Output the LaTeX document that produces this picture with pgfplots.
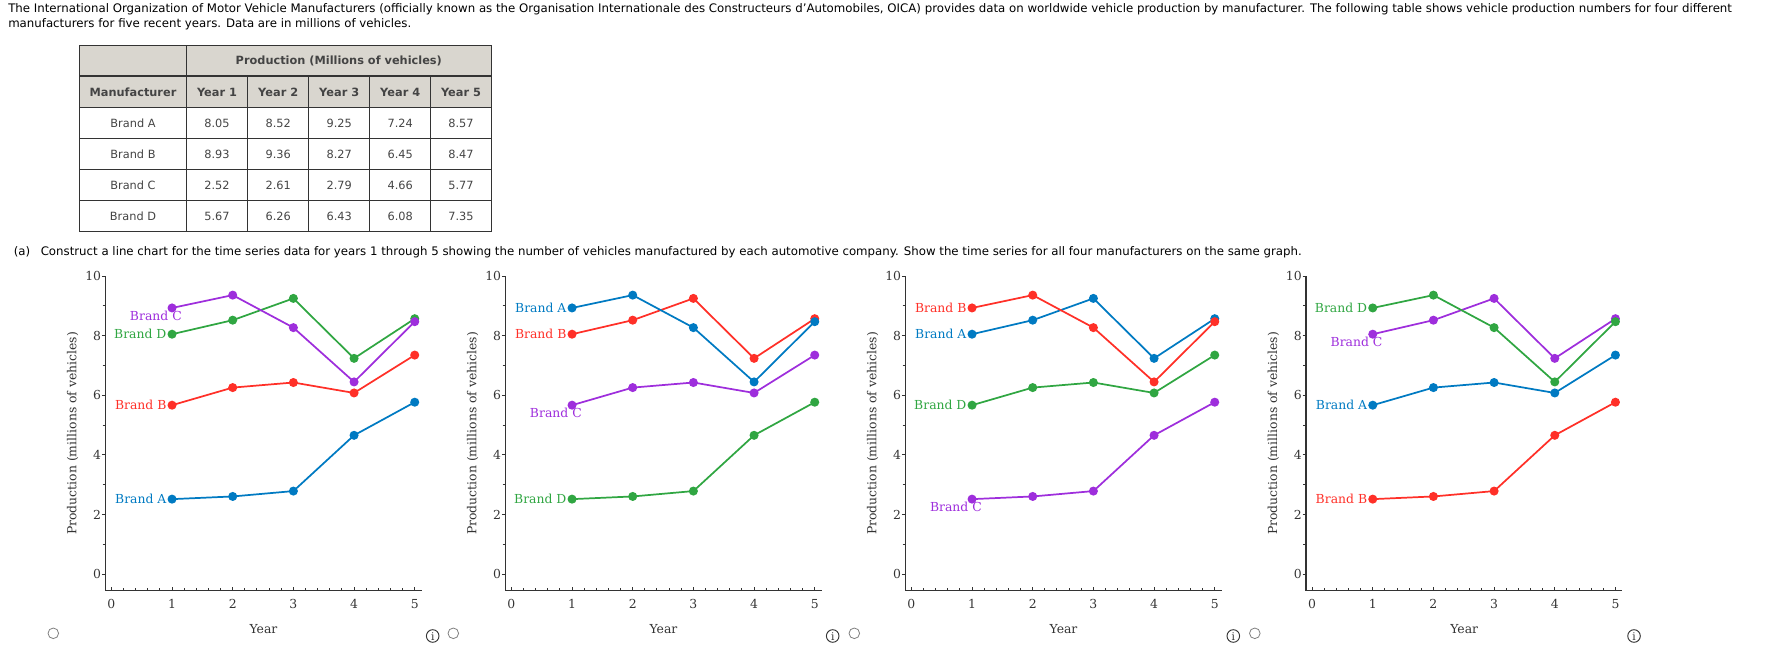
\documentclass[border=0pt]{standalone}
\usepackage{fontspec}
\setmainfont{DejaVu Sans}
\newfontfamily\serifc{DejaVu Serif}
\usepackage{pgfplots}
\usepackage{pgfplotstable}
\pgfplotsset{compat=1.18}

\definecolor{cblue}{RGB}{0,122,194}
\definecolor{cred}{RGB}{255,48,40}
\definecolor{cgreen}{RGB}{48,166,66}
\definecolor{cpurple}{RGB}{158,46,220}
\definecolor{axisgray}{RGB}{51,51,51}
\definecolor{tickgray}{RGB}{51,51,51}
\definecolor{hdrfill}{RGB}{217,214,207}
\definecolor{txtgray}{RGB}{68,68,68}

\newcommand{\chartfont}{\serifc\fontsize{9.3pt}{11pt}\selectfont}
\newcommand{\bodyfont}{\fontsize{8.83pt}{10pt}\selectfont}
\newcommand{\tabfont}{\fontsize{8.5pt}{10pt}\selectfont}

\pgfplotstableread{
year A B C D
1 8.05 8.93 2.52 5.67
2 8.52 9.36 2.61 6.26
3 9.25 8.27 2.79 6.43
4 7.24 6.45 4.66 6.08
5 8.57 8.47 5.77 7.35
}\prodtable

\tikzset{
  lab/.style={font=\chartfont, text=#1, anchor=east, inner sep=0pt, xshift=-4pt},
  labc/.style={font=\chartfont, text=#1, anchor=east, inner sep=0pt, xshift=7.5pt, yshift=-6pt},
}
\pgfplotsset{
  mychart/.style={
    scale only axis, width=237.3pt, height=236pt,
    xmin=-0.1, xmax=5.115, ymin=-0.55, ymax=10,
    axis lines*=left,
    axis line style={draw=axisgray, line width=1pt},
    xtick={0,...,5}, ytick={0,2,...,10},
    minor x tick num=4, minor y tick num=1,
    xtick align=inside, ytick align=outside,
    major tick length=2.5pt, minor tick length=2pt,
    tick style={draw=axisgray, line width=0.75pt},
    tick label style={font=\chartfont, text=tickgray},
    /pgf/number format/assume math mode=true,
    xticklabel style={anchor=center, yshift=-10.2pt},
    yticklabel style={anchor=east, inner sep=0pt, xshift=-0.5pt},
    xlabel={Year}, ylabel={Production (millions of vehicles)},
    label style={font=\chartfont, text=tickgray},
    xlabel style={at={(axis description cs:0.5,-0.1227)}, anchor=center},
    ylabel style={at={(axis description cs:-0.103,0.5)}, anchor=center},
    clip=false,
  },
  ser/.style={color=#1, line width=1.3pt, mark=*, mark size=2.7pt, mark options={solid}},
}

\begin{document}
\begin{tikzpicture}
\begin{scope}[x=0.75pt,y=-0.75pt]
\path[use as bounding box] (0,0) rectangle (1765,670);
% intro text
\node[anchor=west, inner sep=0pt, text=black, font=\bodyfont] at (8,9.5) {The International Organization of Motor Vehicle Manufacturers (officially known as the Organisation Internationale des Constructeurs d'Automobiles, OICA) provides data on worldwide vehicle production by manufacturer. The following table shows vehicle production numbers for four different};
\node[anchor=west, inner sep=0pt, text=black, font=\bodyfont] at (8,24.5) {manufacturers for five recent years. Data are in millions of vehicles.};
% table
\fill[hdrfill] (79.7,45.7) rectangle (491.3,107.7);
\draw[axisgray, line width=1.1pt] (79.7,45.7) rectangle (491.3,231.3);
\foreach \yy in {76,107.7,138.7,169.7,200.5} \draw[axisgray, line width=1.1pt] (79.7,\yy) -- (491.3,\yy);
\draw[axisgray, line width=1.1pt] (186.3,45.7) -- (186.3,231.3);
\foreach \xx in {247.7,308.7,369.7,430.7} \draw[axisgray, line width=1.1pt] (\xx,76) -- (\xx,231.3);
\node[font=\tabfont\bfseries, text=txtgray] at (338.8,61) {Production (Millions of vehicles)};
\node[font=\tabfont\bfseries, text=txtgray] at (133,92) {Manufacturer};
\foreach \c/\xx in {1/217,2/278.2,3/339.2,4/400.2,5/461} \node[font=\tabfont\bfseries, text=txtgray] at (\xx,92) {Year \c};
\foreach \r/\yy/\a/\b/\cc/\d/\e in {A/123.2/8.05/8.52/9.25/7.24/8.57, B/154.2/8.93/9.36/8.27/6.45/8.47, C/185.1/2.52/2.61/2.79/4.66/5.77, D/215.9/5.67/6.26/6.43/6.08/7.35} {
  \node[font=\tabfont, text=txtgray] at (133,\yy) {Brand \r};
  \node[font=\tabfont, text=txtgray] at (217,\yy) {\a};
  \node[font=\tabfont, text=txtgray] at (278.2,\yy) {\b};
  \node[font=\tabfont, text=txtgray] at (339.2,\yy) {\cc};
  \node[font=\tabfont, text=txtgray] at (400.2,\yy) {\d};
  \node[font=\tabfont, text=txtgray] at (461,\yy) {\e};
}
\node[anchor=west, inner sep=0pt, text=black, font=\bodyfont] at (13.5,252) {(a)\hspace{0.9em}Construct a line chart for the time series data for years 1 through 5 showing the number of vehicles manufactured by each automotive company. Show the time series for all four manufacturers on the same graph.};
% radio buttons and info icons
\foreach \rx in {53.3,453.3,854.3,1254.8} \draw[gray, line width=0.6pt] (\rx,633.3) circle (5.3);
\foreach \ix in {432.7,832.7,1233.3,1634} {
  \draw[axisgray, line width=0.7pt] (\ix,636) circle (6.3);
  \node[font=\serifc\fontsize{8pt}{8pt}\selectfont, text=axisgray, inner sep=0pt] at (\ix,636.5) {i};
}
\end{scope}

% Chart 1
\begin{axis}[mychart, at={({105.3*0.75pt},{-590.7*0.75pt})}, anchor=south west]
\addplot[ser=cgreen] table[x=year,y=A] {\prodtable};
\addplot[ser=cpurple] table[x=year,y=B] {\prodtable};
\addplot[ser=cblue] table[x=year,y=C] {\prodtable};
\addplot[ser=cred] table[x=year,y=D] {\prodtable};
\node[lab=cblue] at (axis cs:1,2.52) {Brand A};
\node[lab=cred] at (axis cs:1,5.67) {Brand B};
\node[labc=cpurple] at (axis cs:1,8.93) {Brand C};
\node[lab=cgreen] at (axis cs:1,8.05) {Brand D};
\end{axis}

% Chart 2
\begin{axis}[mychart, at={({505.3*0.75pt},{-590.7*0.75pt})}, anchor=south west]
\addplot[ser=cred] table[x=year,y=A] {\prodtable};
\addplot[ser=cblue] table[x=year,y=B] {\prodtable};
\addplot[ser=cgreen] table[x=year,y=C] {\prodtable};
\addplot[ser=cpurple] table[x=year,y=D] {\prodtable};
\node[lab=cblue] at (axis cs:1,8.93) {Brand A};
\node[lab=cred] at (axis cs:1,8.05) {Brand B};
\node[labc=cpurple] at (axis cs:1,5.67) {Brand C};
\node[lab=cgreen] at (axis cs:1,2.52) {Brand D};
\end{axis}

% Chart 3
\begin{axis}[mychart, at={({905.3*0.75pt},{-590.7*0.75pt})}, anchor=south west]
\addplot[ser=cblue] table[x=year,y=A] {\prodtable};
\addplot[ser=cred] table[x=year,y=B] {\prodtable};
\addplot[ser=cpurple] table[x=year,y=C] {\prodtable};
\addplot[ser=cgreen] table[x=year,y=D] {\prodtable};
\node[lab=cblue] at (axis cs:1,8.05) {Brand A};
\node[lab=cred] at (axis cs:1,8.93) {Brand B};
\node[labc=cpurple] at (axis cs:1,2.52) {Brand C};
\node[lab=cgreen] at (axis cs:1,5.67) {Brand D};
\end{axis}

% Chart 4
\begin{axis}[mychart, at={({1306*0.75pt},{-590.7*0.75pt})}, anchor=south west]
\addplot[ser=cpurple] table[x=year,y=A] {\prodtable};
\addplot[ser=cgreen] table[x=year,y=B] {\prodtable};
\addplot[ser=cred] table[x=year,y=C] {\prodtable};
\addplot[ser=cblue] table[x=year,y=D] {\prodtable};
\node[lab=cblue] at (axis cs:1,5.67) {Brand A};
\node[lab=cred] at (axis cs:1,2.52) {Brand B};
\node[labc=cpurple] at (axis cs:1,8.05) {Brand C};
\node[lab=cgreen] at (axis cs:1,8.93) {Brand D};
\end{axis}
\end{tikzpicture}
\end{document}
